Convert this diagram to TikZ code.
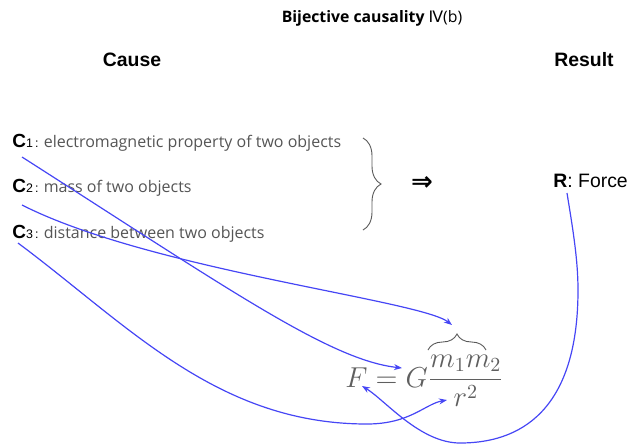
\documentclass[tikz,border=0pt]{standalone}
\usepackage{xcolor}
\usepackage{amsmath}
\usepackage[no-math]{fontspec}
\setmainfont{Liberation Sans}
\newfontfamily\opensans{Open Sans}
\newfontfamily\dejavu{DejaVu Sans}
\usepackage{tikz}
\usetikzlibrary{arrows.meta,decorations.pathreplacing,calc}
\definecolor{linkblue}{RGB}{70,70,245}
\definecolor{txtgray}{RGB}{85,85,85}
\definecolor{eqgray}{RGB}{95,95,95}

\begin{document}
\begin{tikzpicture}[x=0.5pt, y=-0.5pt,
    link/.style = {linkblue, line width=0.6pt, -{Stealth[length=4pt, width=3pt]}},
    head/.style = {font=\fontsize{9.7}{11}\selectfont\bfseries, inner sep=0pt},
    cause/.style = {anchor=base west, inner sep=0pt, font=\fontsize{9.5}{11}\selectfont},
    brc/.style = {black!65, line width=0.45pt, decorate},
    ]
    \useasboundingbox (0,0) rectangle (632,446);

    \node[inner sep=0pt] (t) at (372,18)
      {\opensans\fontsize{7.9}{9}\selectfont\textbf{Bijective causality} {\dejavu Ⅳ}(b)};
    \node[head] (cs) at (132,60) {Cause};
    \node[head] (rs) at (584,60) {Result};

    \node[cause] (c1) at (12,147) {\textbf{C}{\fontsize{6.2}{7}\selectfont 1\,:}\ {\fontsize{8}{10}\opensans\color{txtgray}electromagnetic property of two objects}};
    \node[cause] (c2) at (12,192) {\textbf{C}{\fontsize{6.2}{7}\selectfont 2\,:}\ {\fontsize{8}{10}\opensans\color{txtgray}mass of two objects}};
    \node[cause] (c3) at (12,238) {\textbf{C}{\fontsize{6.2}{7}\selectfont 3\,:}\ {\fontsize{8}{10}\opensans\color{txtgray}distance between two objects}};

    \coordinate (bt) at (363,138);
    \coordinate (bb) at (363,230);
    \draw[brc, decoration={brace, amplitude=9pt}] (bt) -- (bb);

    \node[inner sep=0pt, font=\dejavu\bfseries\fontsize{13}{14}\selectfont] (imp) at (422,183) {⇒};
    \node[anchor=base west, inner sep=0pt, font=\fontsize{9.7}{11}\selectfont] (r) at (553,187) {\textbf{R}: Force};

    \node[anchor=base west, inner sep=0pt, text=eqgray, font=\fontsize{14}{16}\selectfont] (eq) at (345,387)
      {$\displaystyle F=G\frac{m_1m_2}{r^2}$};
    \coordinate (ml) at (428,350);
    \coordinate (mr) at (486,350);
    \draw[brc, decoration={brace, amplitude=8pt}] (ml) -- (mr);

    \coordinate (s1) at ($(c1.base west)+(10,10)$);
    \coordinate (s2) at ($(c2.base west)+(10,13)$);
    \coordinate (s3) at ($(c3.base west)+(6,5)$);
    \coordinate (sr) at ($(r.base west)+(14,6)$);
    \coordinate (tg) at (402,368);
    \coordinate (tb) at (452,325);
    \coordinate (tr) at (447,400);
    \coordinate (tf) at (362,386);
    \coordinate (lo3) at (367,424);
    \coordinate (rr) at (578,290);
    \coordinate (lor) at (460,443);

    \draw[link] (s1) .. controls (230,290) and (330,360) .. (tg);
    \draw[link] (s2) .. controls (150,270) and (420,300) .. (tb);
    \draw[link] (s3) .. controls (128,325) and (217,424) .. (lo3)
                     .. controls (410,424) and (425,404) .. (tr);
    \draw[link] (sr) .. controls (573,230) and (578,260) .. (rr)
                     .. controls (578,400) and (530,443) .. (lor)
                     .. controls (420,443) and (385,400) .. (tf);
\end{tikzpicture}
\end{document}
